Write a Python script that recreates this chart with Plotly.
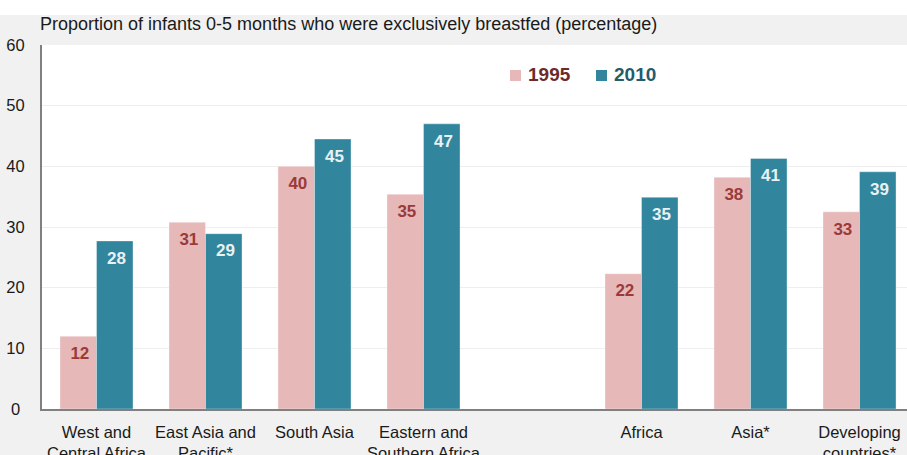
import plotly.graph_objects as go

# ---- data ----
categories = ["West and<br>Central Africa", "East Asia and<br>Pacific*", "South Asia",
              "Eastern and<br>Southern Africa", "", "Africa", "Asia*", "Developing<br>countries*"]
values_1995 = [12.0, 30.8, 40.0, 35.4, None, 22.3, 38.2, 32.5]
values_2010 = [27.7, 28.9, 44.5, 47.0, None, 34.9, 41.3, 39.1]
labels_1995 = ["12", "31", "40", "35", "", "22", "38", "33"]
labels_2010 = ["28", "29", "45", "47", "", "35", "41", "39"]
series_names = ["1995", "2010"]
y_ticks = [0, 10, 20, 30, 40, 50, 60]

# ---- style ----
W, H = 907, 455
ML, MR, MT, MB = 42, 0, 45, 46
PW, PH = W - ML - MR, H - MT - MB
SLOT = 109.0
BARGAP = 0.33
C95, C10 = "#e6b8b8", "#31869e"
LBL95, LBL10 = "#9c3a3a", "#e8f1f4"
LEG95, LEG10 = "#6e2a2a", "#245c6c"
FONT = "Liberation Sans, Arial, Helvetica, sans-serif"

x = list(range(len(categories)))
ymax = 60
px_per_unit = PH / ymax
label_drop = 18.5 / px_per_unit  # label centre below bar top
half_bar = (1 - BARGAP) / 4.0

fig = go.Figure()
fig.add_trace(go.Bar(x=x, y=values_1995, name=series_names[0], marker_color=C95,
                     marker_line=dict(color="rgba(255,255,255,0.35)", width=1),
                     showlegend=False, hoverinfo="skip"))
fig.add_trace(go.Bar(x=x, y=values_2010, name=series_names[1], marker_color=C10,
                     marker_line=dict(color="rgba(255,255,255,0.35)", width=1),
                     showlegend=False, hoverinfo="skip"))

# value labels inside the bars
for vals, labs, sign, col in [(values_1995, labels_1995, -1, LBL95), (values_2010, labels_2010, 1, LBL10)]:
    xs = [xi + sign * half_bar + 0.015 for xi, v in zip(x, vals) if v is not None]
    ys = [v - label_drop for v in vals if v is not None]
    ts = [t for t, v in zip(labs, vals) if v is not None]
    fig.add_trace(go.Scatter(x=xs, y=ys, text=ts, mode="text", textposition="middle center",
                             textfont=dict(family=FONT, size=17, color=col, weight="bold"),
                             showlegend=False, hoverinfo="skip"))

xr1 = -0.5 + PW / SLOT

fig.update_layout(
    width=W, height=H,
    margin=dict(l=ML, r=MR, t=MT, b=MB, pad=0),
    paper_bgcolor="#f1f1f1", plot_bgcolor="#ffffff",
    barmode="group", bargap=BARGAP, bargroupgap=0,
    font=dict(family=FONT, color="#1a1a1a"),
    title=dict(text="Proportion of infants 0-5 months who were exclusively breastfed (percentage)",
               x=40 / W, xanchor="left", xref="container",
               y=1 - 24 / H, yanchor="middle", yref="container",
               font=dict(family=FONT, size=18, color="#1a1a1a")),
    xaxis=dict(range=[-0.5, xr1], tickvals=x, ticktext=categories, showgrid=False,
               zeroline=False, showline=True, linecolor="#808080", linewidth=2,
               ticks="", ticklabelstandoff=7, automargin=False,
               tickfont=dict(family=FONT, size=16.5, color="#1a1a1a")),
    yaxis=dict(range=[0, ymax], tickvals=y_ticks,
               ticktext=[str(t) if t >= 10 else str(t) + "\u2008" for t in y_ticks],
               showgrid=True, gridcolor="#eeeeee", gridwidth=1,
               zeroline=False, showline=True, linecolor="#808080", linewidth=2,
               ticks="", ticklabelstandoff=12, automargin=False,
               tickfont=dict(family=FONT, size=16.5, color="#1a1a1a")),
    showlegend=False,
)

# white strip at top of the page
top_paper = 1 + MT / PH
fig.add_shape(type="rect", xref="paper", yref="paper", x0=-ML / PW, x1=1 + 1 / PW,
              y0=1 + (MT - 15) / PH, y1=top_paper + 0.01, fillcolor="#ffffff",
              line_width=0, layer="below")

# legend (manual)
def px_x(p):
    return (p - ML) / PW

def px_y(p):
    return (MT + PH - p) / PH

for sq_left, txt_left, name, fill, tcol in [(510, 526, series_names[0], C95, LEG95),
                                            (596, 612, series_names[1], C10, LEG10)]:
    fig.add_shape(type="rect", xref="paper", yref="paper",
                  x0=px_x(sq_left), x1=px_x(sq_left + 11), y0=px_y(81), y1=px_y(70),
                  fillcolor=fill, line_width=0)
    fig.add_annotation(xref="paper", yref="paper", x=px_x(txt_left), y=px_y(74.5),
                       xanchor="left", yanchor="middle", showarrow=False, text="<b>" + name + "</b>",
                       font=dict(family=FONT, size=19, color=tcol))

fig.write_html("out.html")
